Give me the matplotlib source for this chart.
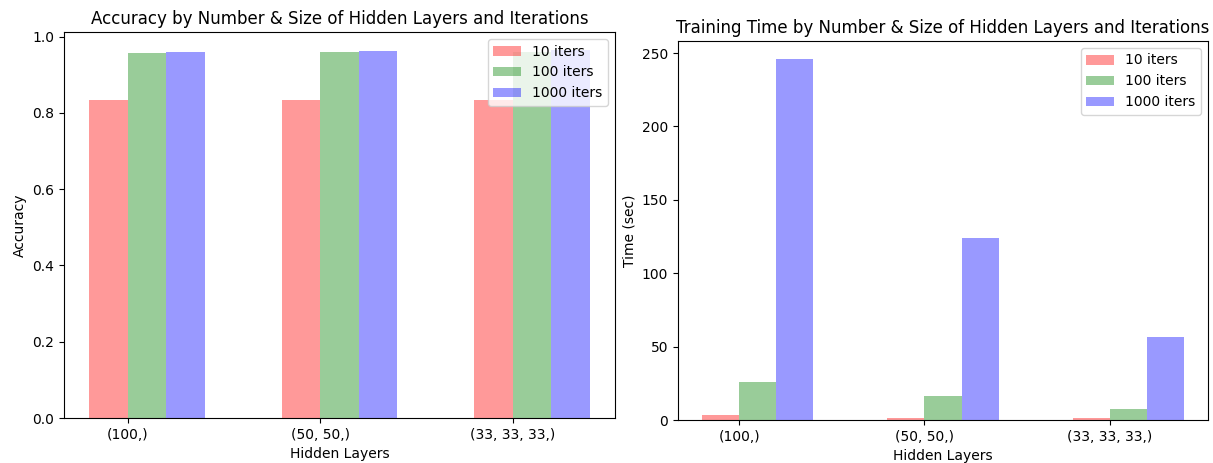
import numpy as np
import matplotlib
matplotlib.use("Agg")
import matplotlib.pyplot as plt

layers = ["(100,)", "(50, 50,)", "(33, 33, 33,)"]
iter_labels = ["10 iters", "100 iters", "1000 iters"]
colors = ["r", "g", "b"]

accuracy_10 = [0.835, 0.835, 0.835]
accuracy_100 = [0.958, 0.959, 0.959]
accuracy_1000 = [0.961, 0.963, 0.964]

time_10 = [3.6, 1.6, 1.5]
time_100 = [25.7, 16.3, 7.5]
time_1000 = [245.9, 124.0, 56.5]

index = np.arange(len(layers))
bar_width = 0.2
opacity = 0.4

fig = plt.figure(figsize=(12.13, 4.63), dpi=100)
W, H = 1213, 463
ax1 = fig.add_axes([64 / W, 1 - 418 / H, (615 - 64) / W, (418 - 32) / H])
ax2 = fig.add_axes([678 / W, 1 - 420 / H, (1208 - 678) / W, (420 - 41) / H])

# Graph 1: Accuracy
for i, vals in enumerate([accuracy_10, accuracy_100, accuracy_1000]):
    ax1.bar(index + i * bar_width, vals, bar_width,
            alpha=opacity, color=colors[i], label=iter_labels[i])
ax1.set_xlabel("Hidden Layers")
ax1.set_ylabel("Accuracy")
ax1.set_title("Accuracy by Number & Size of Hidden Layers and Iterations")
ax1.set_xticks(index + bar_width / 2)
ax1.set_xticklabels(layers)
ax1.legend(loc="upper right")

# Graph 2: Training time
for i, vals in enumerate([time_10, time_100, time_1000]):
    ax2.bar(index + i * bar_width, vals, bar_width,
            alpha=opacity, color=colors[i], label=iter_labels[i])
ax2.set_xlabel("Hidden Layers")
ax2.set_ylabel("Time (sec)")
ax2.set_title("Training Time by Number & Size of Hidden Layers and Iterations")
ax2.set_xticks(index + bar_width / 2)
ax2.set_xticklabels(layers)
ax2.legend(loc="upper right")

fig.savefig("out.png", dpi=100)
